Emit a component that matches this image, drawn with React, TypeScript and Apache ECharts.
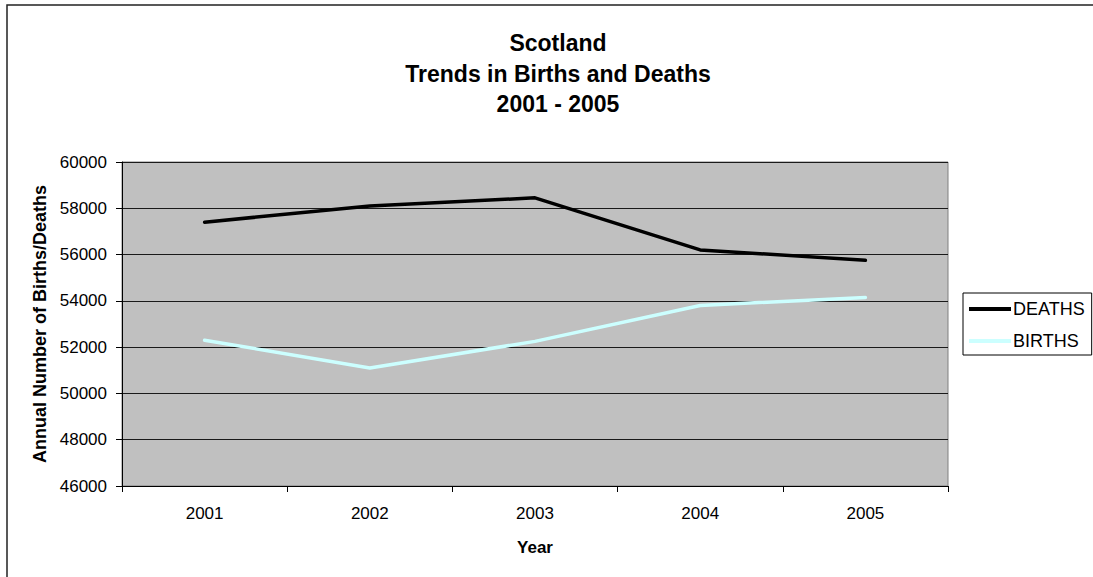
import React, { useEffect, useRef } from "react";
import * as echarts from "echarts";

// Annual births and deaths in Scotland, 2001-2005
const years = ["2001", "2002", "2003", "2004", "2005"];
const deaths = [57400, 58100, 58450, 56200, 55750];
const births = [52300, 51100, 52250, 53800, 54150];

const titleLines = ["Scotland", "Trends in Births and Deaths", "2001 - 2005"];

const FONT = "Arial, 'Liberation Sans', sans-serif";

export default function App() {
  const ref = useRef<HTMLDivElement>(null);

  useEffect(() => {
    if (!ref.current) return;
    const chart = echarts.init(ref.current, undefined, { renderer: "svg" });
    chart.setOption({
      animation: false,
      backgroundColor: "#ffffff",
      textStyle: { fontFamily: FONT },
      title: {
        text: titleLines.join("\n"),
        left: 553,
        top: 23,
        textAlign: "center",
        textStyle: {
          fontFamily: FONT,
          fontSize: 23,
          fontWeight: "bold",
          color: "#000000",
          lineHeight: 30.5,
        },
      },
      grid: {
        left: 122,
        top: 162,
        right: 145,
        bottom: 91,
        show: true,
        backgroundColor: "#c0c0c0",
        borderColor: "#808080",
        borderWidth: 1,
        containLabel: false,
      },
      legend: {
        orient: "vertical",
        left: 963,
        top: 293,
        padding: [7, 7, 5, 6],
        itemGap: 14,
        itemWidth: 42,
        itemHeight: 4,
        icon: "rect",
        borderColor: "#000000",
        borderWidth: 1,
        backgroundColor: "#ffffff",
        textStyle: { fontFamily: FONT, fontSize: 18, color: "#000000", padding: [0, 0, 0, -3] },
        data: ["DEATHS", "BIRTHS"],
      },
      xAxis: {
        type: "category",
        data: years,
        boundaryGap: true,
        name: "Year",
        nameLocation: "middle",
        nameGap: 53,
        nameTextStyle: { fontFamily: FONT, fontSize: 17, fontWeight: "bold", color: "#000000" },
        axisLine: { show: true, lineStyle: { color: "#000000", width: 1 } },
        axisTick: { show: true, length: 6, inside: false, lineStyle: { color: "#000000" } },
        axisLabel: { fontFamily: FONT, fontSize: 17, color: "#000000", margin: 19 },
        splitLine: { show: false },
      },
      yAxis: {
        type: "value",
        min: 46000,
        max: 60000,
        interval: 2000,
        name: "Annual Number of Births/Deaths",
        nameLocation: "middle",
        nameGap: 73,
        nameRotate: 90,
        nameTextStyle: { fontFamily: FONT, fontSize: 18, fontWeight: "bold", color: "#000000" },
        axisLine: { show: true, lineStyle: { color: "#000000", width: 1 } },
        axisTick: { show: true, length: 6, inside: false, lineStyle: { color: "#000000" } },
        axisLabel: {
          fontFamily: FONT,
          fontSize: 17,
          color: "#000000",
          margin: 15,
          formatter: (v: number) => String(v),
        },
        splitLine: { show: true, lineStyle: { color: "#1a1a1a", width: 1 } },
      },
      series: [
        {
          name: "DEATHS",
          type: "line",
          data: deaths,
          symbol: "none",
          color: "#000000",
          lineStyle: { color: "#000000", width: 3.5, cap: "round", join: "round" },
          z: 3,
        },
        {
          name: "BIRTHS",
          type: "line",
          data: births,
          symbol: "none",
          color: "#ccffff",
          lineStyle: { color: "#ccffff", width: 3.5, cap: "round", join: "round" },
          z: 3,
        },
      ],
      graphic: [
        {
          type: "polyline",
          silent: true,
          shape: { points: [[7, 600], [7, 5], [1100, 5]] },
          style: { fill: "none", stroke: "#222222", lineWidth: 1.5 },
        },
      ],
    });
    return () => chart.dispose();
  }, []);

  return (
    <div
      ref={ref}
      style={{ position: "absolute", left: 0, top: 0, width: 1093, height: 577 }}
    />
  );
}
